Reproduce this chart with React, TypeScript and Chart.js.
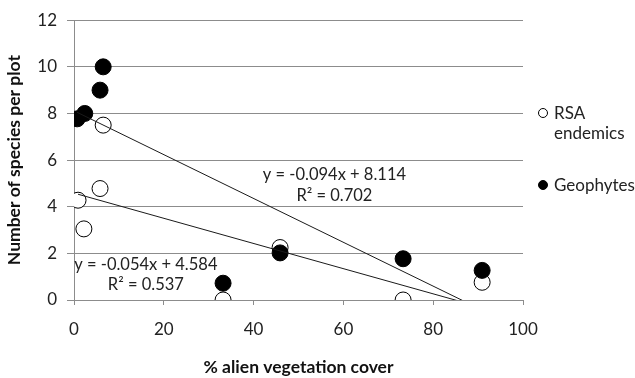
import React, { useEffect, useRef } from "react";
import { Chart, registerables } from "chart.js";

Chart.register(...registerables);

// ---- data ----
const rsaX = [0.9, 2.2, 5.8, 6.5, 33.2, 45.9, 73.3, 90.9];
const rsaY = [4.28, 3.05, 4.78, 7.5, 0, 2.25, 0, 0.76];
const geoX = [0.7, 2.4, 5.8, 6.5, 33.2, 45.9, 73.3, 90.9];
const geoY = [7.77, 8.0, 9.0, 10.0, 0.72, 2.02, 1.77, 1.27];

const rsaSlope = -0.054;
const rsaIntercept = 4.584;
const rsaR2 = "0.537";
const geoSlope = -0.094;
const geoIntercept = 8.114;
const geoR2 = "0.702";

const xMin = 0;
const xMax = 100;
const xStep = 20;
const yMin = 0;
const yMax = 12;
const yStep = 2;

const seriesNames = ["RSA endemics", "Geophytes"];
const xTitle = "% alien vegetation cover";
const yTitle = "Number of species per plot";

// label anchors in data units
const eqLabels = [
  { text: "y = -0.094x + 8.114", x: 58, y: 5.38 },
  { text: "R\u00b2 = " + geoR2, x: 58, y: 4.49 },
  { text: "y = -0.054x + 4.584", x: 16, y: 1.53 },
  { text: "R\u00b2 = " + rsaR2, x: 16, y: 0.64 },
];

const FONT = "Lato";
const TEXT = "#222222";
const GRID = "#8c8c8c";

const pts = (xs: number[], ys: number[]) => xs.map((x, i) => ({ x, y: ys[i] }));
const trend = (xs: number[], m: number, b: number) => {
  const lo = Math.min(...xs);
  const hi = Math.max(...xs);
  return [
    { x: lo, y: m * lo + b },
    { x: hi, y: m * hi + b },
  ];
};

const labelPlugin = {
  id: "eqLabels",
  afterDatasetsDraw(chart: any) {
    const { ctx, scales } = chart;
    ctx.save();
    ctx.font = `16.5px ${FONT}`;
    ctx.fillStyle = TEXT;
    ctx.textAlign = "center";
    ctx.textBaseline = "middle";
    eqLabels.forEach((l) => {
      ctx.fillText(l.text, scales.x.getPixelForValue(l.x), scales.y.getPixelForValue(l.y));
    });
    ctx.restore();
  },
};

export default function App() {
  const ref = useRef<HTMLCanvasElement | null>(null);
  useEffect(() => {
    document.body.style.margin = "0";
    const chart = new Chart(ref.current as HTMLCanvasElement, {
      type: "scatter",
      data: {
        datasets: [
          {
            type: "line",
            label: "geoTrend",
            data: trend(geoX, geoSlope, geoIntercept),
            borderColor: "#1a1a1a",
            borderWidth: 1,
            pointRadius: 0,
            fill: false,
            order: 1,
          } as any,
          {
            type: "line",
            label: "rsaTrend",
            data: trend(rsaX, rsaSlope, rsaIntercept),
            borderColor: "#1a1a1a",
            borderWidth: 1,
            pointRadius: 0,
            fill: false,
            order: 1,
          } as any,
          {
            label: seriesNames[0],
            data: pts(rsaX, rsaY),
            backgroundColor: "#ffffff",
            borderColor: "#000000",
            borderWidth: 1,
            pointRadius: 8,
            order: 3,
          },
          {
            label: seriesNames[1],
            data: pts(geoX, geoY),
            backgroundColor: "#000000",
            borderColor: "#000000",
            borderWidth: 1,
            pointRadius: 8,
            order: 2,
          },
        ],
      },
      options: {
        animation: false,
        responsive: false,
        maintainAspectRatio: false,
        layout: { padding: { left: 0, right: 112, top: 17, bottom: 0 } },
        plugins: { legend: { display: false }, tooltip: { enabled: false } },
        scales: {
          x: {
            type: "linear",
            min: xMin,
            max: xMax,
            ticks: { stepSize: xStep, color: TEXT, font: { family: FONT, size: 17 }, padding: 14 },
            grid: { drawOnChartArea: false, drawTicks: true, tickLength: 5, color: GRID },
            border: { display: false },
            title: {
              display: true,
              text: xTitle,
              color: "#111",
              font: { family: FONT, size: 17.5, weight: "bold" },
              padding: { top: 12, bottom: 0 },
            },
            afterFit: (s: any) => {
              s.height = 78;
            },
          },
          y: {
            min: yMin,
            max: yMax,
            ticks: { stepSize: yStep, color: TEXT, font: { family: FONT, size: 17 }, padding: 10 },
            grid: { color: GRID, tickLength: 7 },
            border: { color: GRID },
            title: {
              display: true,
              text: yTitle,
              color: "#111",
              font: { family: FONT, size: 17.5, weight: "bold" },
              padding: { top: 4, bottom: 0 },
            },
            afterFit: (s: any) => {
              s.width = 74;
            },
          },
        },
      } as any,
      plugins: [labelPlugin],
    });
    return () => chart.destroy();
  }, []);

  const legendText: React.CSSProperties = {
    position: "absolute",
    left: 554,
    width: 80,
    font: `17px ${FONT}`,
    lineHeight: "20px",
    color: TEXT,
  };
  const marker = (filled: boolean, top: number): React.CSSProperties => ({
    position: "absolute",
    left: 538,
    top,
    width: 10,
    height: 10,
    borderRadius: "50%",
    boxSizing: "border-box",
    border: "1px solid #000",
    background: filled ? "#000" : "#fff",
  });

  return (
    <div style={{ position: "absolute", left: 0, top: 0, width: 635, height: 378, background: "#fff" }}>
      <canvas ref={ref} width={635} height={378} style={{ display: "block" }} />
      <span style={marker(false, 108)} />
      <div style={{ ...legendText, top: 103 }}>{seriesNames[0]}</div>
      <span style={marker(true, 180)} />
      <div style={{ ...legendText, top: 175 }}>{seriesNames[1]}</div>
    </div>
  );
}
